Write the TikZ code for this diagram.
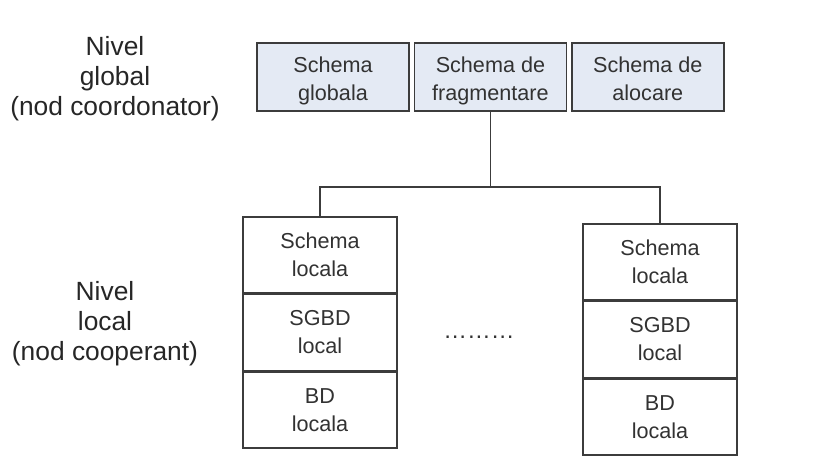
\documentclass[tikz,border=0pt]{standalone}
\usepackage{fontspec}
\setmainfont{Liberation Sans}
\usepackage{tikz}
\usetikzlibrary{positioning}
\definecolor{boxfill}{RGB}{228,234,244}
\definecolor{edge}{RGB}{60,60,60}
\definecolor{ink}{RGB}{50,50,50}
\tikzset{
  schema/.style={draw=edge, fill=boxfill, line width=0.8pt, minimum width=152*0.02cm,
    minimum height=68*0.02cm, align=center, text=ink, font=\fontsize{12.3}{15.9}\selectfont,
    text height=29pt, text depth=2.6pt},
  layer/.style={draw=edge, line width=0.8pt, minimum width=154*0.02cm,
    minimum height=76*0.02cm, align=center, text=ink, font=\fontsize{12.3}{15.9}\selectfont},
  level/.style={align=center, text=black!85, font=\fontsize{15}{17}\selectfont},
  link/.style={draw=edge, line width=0.8pt}
}
\begin{document}
\begin{tikzpicture}[x=0.02cm, y=-0.02cm]
  \useasboundingbox (0,0) rectangle (814,457);
  % global level
  \node[schema] (glob) at (333,77) {Schema\\globala};
  \node[schema, right=4*0.02cm of glob] (frag) {Schema de\\fragmentare};
  \node[schema, right=4*0.02cm of frag] (aloc) {Schema de\\alocare};
  \node[level] (nglob) at (115,79) {Nivel\\global\\(nod coordonator)};
  % local level, first node
  \node[layer] (sl1) at (320,255) {Schema\\locala};
  \node[layer, below=0pt of sl1] (sg1) {SGBD\\local};
  \node[layer, below=0pt of sg1] (bd1) {BD\\locala};
  % local level, last node
  \node[layer] (sl2) at (660,262) {Schema\\locala};
  \node[layer, below=0pt of sl2] (sg2) {SGBD\\local};
  \node[layer, below=0pt of sg2] (bd2) {BD\\locala};
  \node[level] (nloc) at (105,324) {Nivel\\local\\(nod cooperant)};
  \node[text=ink, font=\fontsize{13.5}{14}\selectfont] (dots) at (479,337) {\dots\dots\dots};
  % tree connectors
  \coordinate (bus) at (frag.south |- 0,187);
  \draw[link] (frag.south) -- (bus);
  \draw[link] (bus) -| (sl1.north);
  \draw[link] (bus) -| (sl2.north);
\end{tikzpicture}
\end{document}
